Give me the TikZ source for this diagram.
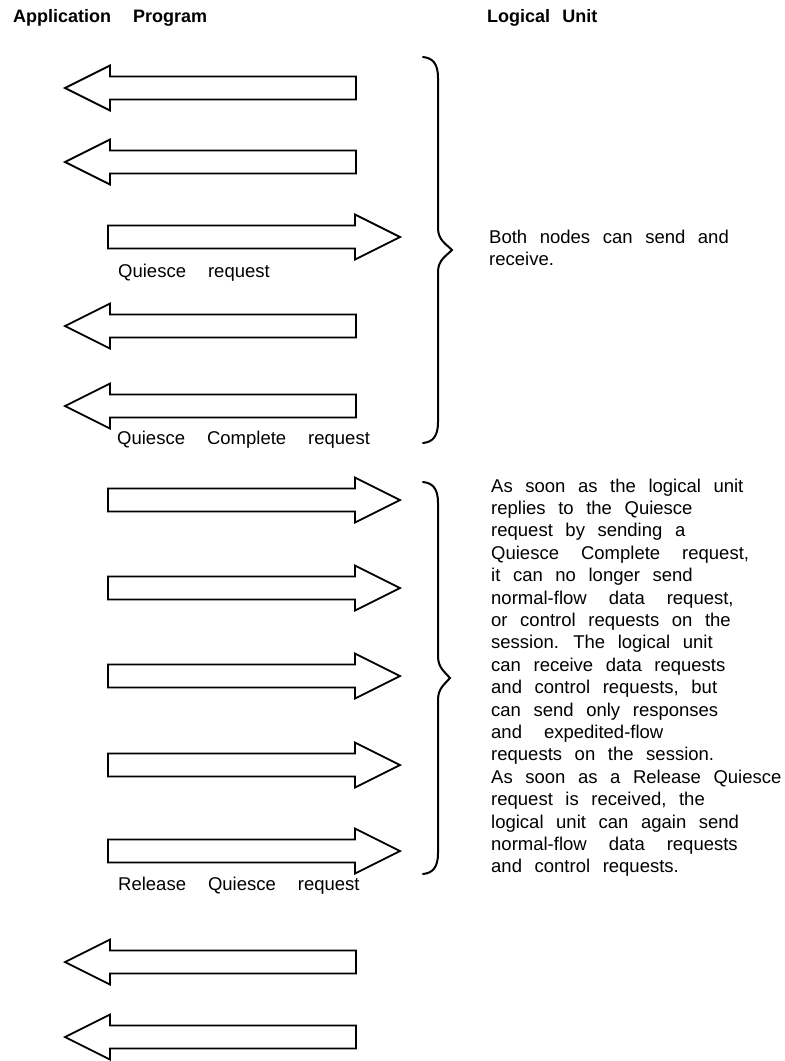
\documentclass[tikz,border=0pt]{standalone}
\usepackage{fontspec}
\setmainfont{Liberation Sans}[WordSpace=2.45]
\newcommand{\wgap}{\hspace{22pt}}
\begin{document}
\begin{tikzpicture}[x=1pt,y=-1pt,
  blockline/.style={draw=black, line width=1.8pt, line join=miter, fill=white},
  bracepath/.style={draw=black, line width=2pt, line cap=round},
  header/.style={font=\fontsize{18}{22}\selectfont\bfseries, inner sep=0pt, anchor=base west},
  txt/.style={font=\fontsize{18.5}{22.4}\selectfont, inner sep=0pt, anchor=base west},
  leftblock/.pic={\path[blockline] (0,-11.5) -- (-246,-11.5) -- (-246,-22.5) -- (-291,0) -- (-246,22.5) -- (-246,11.5) -- (0,11.5) -- cycle;},
  rightblock/.pic={\path[blockline] (0,-11.5) -- (247,-11.5) -- (247,-22.5) -- (292,0) -- (247,22.5) -- (247,11.5) -- (0,11.5) -- cycle;}
]
\useasboundingbox (0,0) rectangle (785,1061);

% column headings
\node[header] (hdrapp) at (13,22) {Application\wgap Program};
\node[header] (hdrlu) at (487,22) {Logical Unit};

% first phase: flows in both directions
\pic (f1) at (356,88) {leftblock};
\pic (f2) at (356,162) {leftblock};
\pic (f3) at (108,237) {rightblock};
\pic (f4) at (356,326) {leftblock};
\pic (f5) at (356,406) {leftblock};
\node[txt] (lblq) at (118,277) {Quiesce\wgap request};
\node[txt] (lblqc) at (117,444) {Quiesce\wgap Complete\wgap request};

% second phase: only the application program sends
\pic (s1) at (108,500) {rightblock};
\pic (s2) at (108,588) {rightblock};
\pic (s3) at (108,676) {rightblock};
\pic (s4) at (108,765) {rightblock};
\pic (s5) at (108,851) {rightblock};
\node[txt] (lblrq) at (118,890) {Release\wgap Quiesce\wgap request};

% third phase
\pic (t1) at (356,962) {leftblock};
\pic (t2) at (356,1037) {leftblock};

% braces grouping each phase
\draw[bracepath] (423,57) .. controls (433,58) and (438,64) .. (438,78) -- (438,228)
  .. controls (438,240) and (446,244) .. (452,250)
  .. controls (446,256) and (438,260) .. (438,272) -- (438,422)
  .. controls (438,436) and (433,442) .. (423,443);
\draw[bracepath] (423,482) .. controls (433,483) and (438,489) .. (438,503) -- (438,656)
  .. controls (438,668) and (445,672) .. (450,678)
  .. controls (445,684) and (438,688) .. (438,700) -- (438,853)
  .. controls (438,867) and (433,873) .. (423,874);

% explanations
\node[txt] (both1) at (489,243) {Both nodes can send and};
\node[txt] (both2) at (489,265) {receive.};

\foreach \t [count=\i] in {
  {As soon as the logical unit},
  {replies to the Quiesce},
  {request by sending a},
  {Quiesce\wgap Complete\wgap request,},
  {it can no longer send},
  {normal-flow\wgap data\wgap request,},
  {or control requests on the},
  {session. The logical unit},
  {can receive data requests},
  {and control requests, but},
  {can send only responses},
  {and\wgap expedited-flow},
  {requests on the session.},
  {As soon as a Release Quiesce},
  {request is received, the},
  {logical unit can again send},
  {normal-flow\wgap data\wgap requests},
  {and control requests.}}
  \node[txt] (expl\i) at (491,{492+22.4*(\i-1)}) {\t};

\end{tikzpicture}
\end{document}
